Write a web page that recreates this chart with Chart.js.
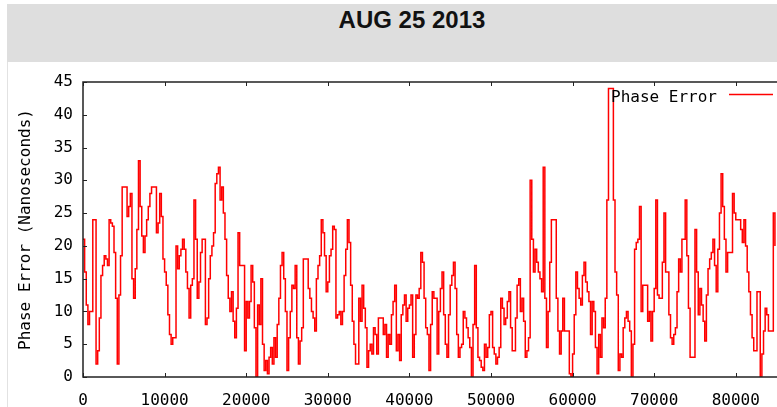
<!DOCTYPE html>
<html>
<head>
<meta charset="utf-8">
<title>AUG 25 2013</title>
<script src="https://cdn.jsdelivr.net/npm/chart.js@4.4.1/dist/chart.umd.min.js"></script>
<style>
  body {
    margin: 0;
    width: 777px;
    height: 407px;
    overflow: hidden;
    position: relative;
    background: #fff;
  }
  #header {
    position: absolute;
    left: 7px;
    top: 4px;
    width: 810px;
    height: 58px;
    background: #dedede;
  }
  #header h1 {
    position: absolute;
    left: 0;
    right: 0;
    top: 4px;
    margin: 0;
    text-align: center;
    font: bold 24px/24px "Liberation Sans", Arial, sans-serif;
    color: #111;
  }
  #sideLine {
    position: absolute;
    left: 7px;
    top: 62px;
    width: 1px;
    height: 345px;
    background: #e2e2e2;
  }
  #phaseChart {
    position: absolute;
    left: 0;
    top: 62px;
  }
</style>
</head>
<body>
<div id="header"><h1>AUG 25 2013</h1></div>
<div id="sideLine"></div>
<canvas id="phaseChart" width="800" height="345"></canvas>

<script>
// one sample every 200 s, starting at 0 s
const sampleStep = 200;
const xMax = 86400;
const yMax = 45;
const xTicks = [0, 10000, 20000, 30000, 40000, 50000, 60000, 70000, 80000];
const yTicks = [0, 5, 10, 15, 20, 25, 30, 35, 40, 45];
const seriesLabel = "Phase Error";
const yTitle = "Phase Error (Nanoseconds)";

// phase error in nanoseconds
const phaseError = [
  21, 16, 11, 8, 10, 10, 24, 24, 2, 4,
  9, 15.5, 17, 18.5, 18, 17, 24, 23.5, 23, 19,
  12, 2, 12.5, 18.5, 29, 29, 29, 24.5, 26, 28,
  15, 12, 16.5, 22.5, 33, 26, 21.5, 19, 21.5, 24,
  26, 28, 29, 29, 29, 22, 23.5, 28, 24.5, 18,
  16, 14, 9.5, 6.5, 5, 6, 6, 20, 16.5, 18.5,
  19.5, 21, 19.5, 16, 13.5, 9, 14, 15, 27, 21,
  12, 14.5, 19, 21, 21, 8, 9, 15, 18.5, 20,
  22, 29.5, 31, 32, 27, 29, 25, 21, 15.5, 12,
  10, 13, 8.5, 6, 10.5, 22, 17, 17, 17, 4,
  11.5, 9, 11.5, 17, 14.5, 7.5, 0, 11, 8, 15,
  5, 1, 2.5, 0.5, 3, 4.5, 2, 6, 3, 8,
  12, 17, 19, 15, 10, 1, 6, 10, 14, 13.5,
  17, 6, 2, 5.5, 7.5, 18, 18, 18, 13.5, 12,
  10, 9, 7, 15, 17, 18.5, 24, 22, 18.5, 13,
  14.5, 18.5, 19.5, 23, 22.5, 9, 9.5, 10, 8, 10,
  15.5, 19.5, 24, 20.5, 14, 8.5, 5, 2, 2, 12,
  8.5, 14, 10.5, 7.5, 1.5, 4, 5, 3.5, 7.5, 6.5,
  3.5, 9, 9, 9, 6.5, 8, 3, 6.5, 5, 9.5,
  11.5, 14, 4, 6.5, 2.5, 9.5, 11, 12.5, 8.5, 10.5,
  11, 12.5, 3, 6.5, 12.5, 12, 13.5, 19, 17.5, 12,
  7.5, 6.5, 1, 8, 13, 12, 12, 3.5, 10, 13.5,
  16, 9.5, 5, 3, 9.5, 14, 15.5, 17.5, 13.5, 6.5,
  3, 4.5, 5, 10, 9, 7.5, 6, 4.5, 0, 8,
  17, 7.5, 3, 2.5, 1.5, 1, 5, 3, 4.5, 9.5,
  10, 4.5, 3.5, 2, 3, 4.5, 12, 10.5, 8, 9,
  11.5, 13, 7.5, 4, 4, 9, 14, 15, 10, 12,
  8.5, 3, 4, 6, 30, 21, 16, 19.5, 17.5, 16,
  15, 13, 32, 12, 4.5, 10, 17.5, 24, 24, 24,
  12, 7, 3.5, 7, 12, 7, 7, 7, 0.5, 0,
  3.5, 9.5, 16, 13.5, 12, 11, 15.5, 17.5, 14.5, 13,
  11.5, 6.5, 11.5, 10, 4.5, 0.5, 6.5, 3, 9, 7.5,
  12, 27, 44, 44, 44, 27, 16, 12.5, 1, 3.5,
  3, 7.5, 9, 10, 8.5, 7, 0, 5, 19.5, 20.5,
  21, 26, 10, 14, 14, 14, 8.5, 10, 5.5, 10,
  13.5, 27, 12.5, 12, 12, 17.5, 25, 16, 16, 9.5,
  6, 5, 6.5, 7.5, 13, 18, 16, 21, 21, 27,
  18.5, 10.5, 3, 3, 3, 22.5, 16, 9.5, 13.5, 11,
  8.5, 5.5, 12.5, 16.5, 18, 19, 21, 17, 13, 19.5,
  25, 31, 26, 21, 16, 19, 19, 19, 28, 25,
  24, 24, 24, 22.5, 20.5, 24, 20, 16, 13, 9.5,
  6, 4, 4, 13, 13, 0, 3.5, 7, 10.5, 9.5,
  7, 7, 7, 25, 20
];

const monoFont = { family: "'DejaVu Sans Mono', monospace", size: 16 };

// gnuplot style frame: box, inward ticks on all sides, key in the top right
const gnuplotFrame = {
  id: "gnuplotFrame",
  afterDatasetsDraw(chart) {
    const ctx = chart.ctx;
    const a = chart.chartArea;
    const xs = chart.scales.x;
    const ys = chart.scales.y;

    ctx.save();
    ctx.strokeStyle = "#222";
    ctx.lineWidth = 1.5;
    ctx.strokeRect(a.left, a.top, a.right - a.left, a.bottom - a.top);

    ctx.lineWidth = 1;
    ctx.beginPath();
    xs.ticks.forEach(t => {
      const x = Math.round(xs.getPixelForValue(t.value)) + 0.5;
      ctx.moveTo(x, a.bottom);
      ctx.lineTo(x, a.bottom - 4);
      ctx.moveTo(x, a.top);
      ctx.lineTo(x, a.top + 4);
    });
    ys.ticks.forEach(t => {
      const y = Math.round(ys.getPixelForValue(t.value)) + 0.5;
      ctx.moveTo(a.left, y);
      ctx.lineTo(a.left + 4, y);
      ctx.moveTo(a.right, y);
      ctx.lineTo(a.right - 4, y);
    });
    ctx.stroke();

    const ds = chart.data.datasets[0];
    ctx.font = "16px 'DejaVu Sans Mono', monospace";
    ctx.fillStyle = "#000";
    ctx.textAlign = "right";
    ctx.textBaseline = "alphabetic";
    ctx.fillText(ds.label, a.right - 71, a.top + 20);
    ctx.strokeStyle = ds.borderColor;
    ctx.lineWidth = 1.5;
    ctx.beginPath();
    ctx.moveTo(a.right - 59, a.top + 12.5);
    ctx.lineTo(a.right - 15, a.top + 12.5);
    ctx.stroke();
    ctx.restore();
  }
};

new Chart(document.getElementById("phaseChart"), {
  type: "line",
  data: {
    datasets: [
      {
        label: seriesLabel,
        data: phaseError.map((v, i) => ({ x: i * sampleStep, y: v })),
        borderColor: "#ff0000",
        borderWidth: 1.5,
        pointRadius: 0,
        stepped: true,
        fill: false
      }
    ]
  },
  options: {
    responsive: false,
    devicePixelRatio: 1,
    animation: false,
    layout: { padding: { top: 20, right: 12, left: 0, bottom: 0 } },
    plugins: {
      legend: { display: false },
      tooltip: { enabled: false }
    },
    scales: {
      x: {
        type: "linear",
        min: 0,
        max: xMax,
        grid: { display: false, drawTicks: false },
        border: { display: false },
        afterBuildTicks: scale => { scale.ticks = xTicks.map(value => ({ value })); },
        afterFit: scale => { scale.height = 30; },
        ticks: {
          autoSkip: false,
          maxRotation: 0,
          padding: 14,
          color: "#000",
          font: monoFont,
          callback: v => String(v)
        }
      },
      y: {
        min: 0,
        max: yMax,
        grid: { display: false, drawTicks: false },
        border: { display: false },
        afterBuildTicks: scale => { scale.ticks = yTicks.map(value => ({ value })); },
        afterFit: scale => { scale.width = 83; },
        title: {
          display: true,
          text: yTitle,
          color: "#000",
          font: monoFont,
          padding: { top: 16, bottom: 0 }
        },
        ticks: {
          padding: 10,
          color: "#000",
          font: monoFont,
          callback: v => String(v)
        }
      }
    }
  },
  plugins: [gnuplotFrame]
});
</script>
</body>
</html>
